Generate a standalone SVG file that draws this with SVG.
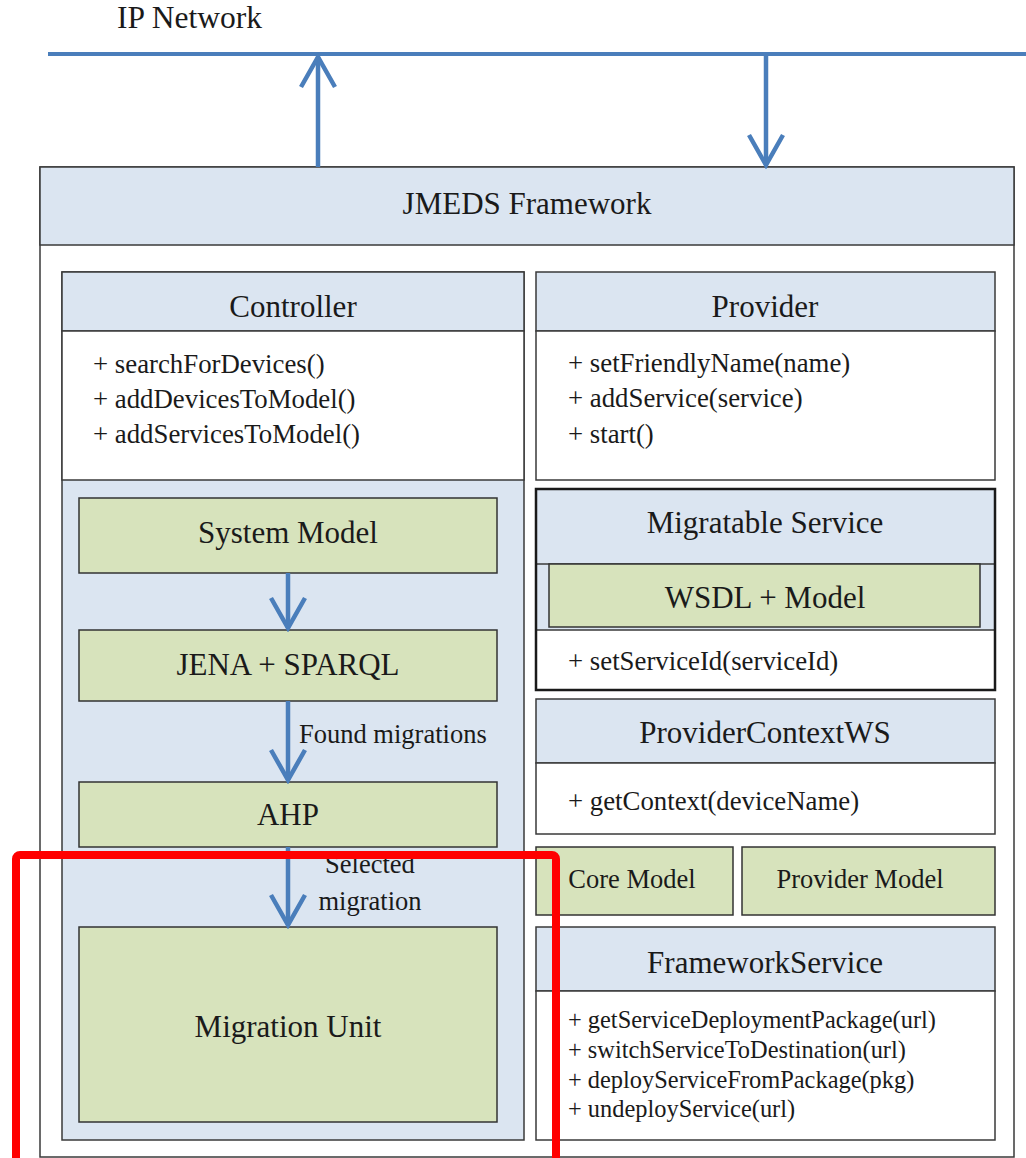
<svg xmlns="http://www.w3.org/2000/svg" width="1026" height="1158" viewBox="0 0 1026 1158" font-family="Liberation Serif, Times New Roman, serif">
<defs>
<style>
text{font-family:'Liberation Serif','Times New Roman',serif;fill:#1a1a1a}
.t{font-size:31px;text-anchor:middle}
.m{font-size:26.8px}
.s{font-size:24.4px}
.l{font-size:26.5px}
.hdr{fill:#dbe5f1;stroke:#3a3a3a;stroke-width:1.5}
.wht{fill:#ffffff;stroke:#3a3a3a;stroke-width:1.5}
.grn{fill:#d7e3bc;stroke:#333333;stroke-width:1.5}
.conn{stroke:#4a7ebb;stroke-width:4.5;fill:none}
</style>
<marker id="v" viewBox="-34 -20 38 40" markerWidth="38" markerHeight="40" refX="0" refY="0" orient="auto" markerUnits="userSpaceOnUse">
<path d="M-30,-17 L0,0 L-30,17" fill="none" stroke="#4a7ebb" stroke-width="4.5" stroke-linejoin="miter"/>
</marker>
</defs>
<rect width="1026" height="1158" fill="#ffffff"/>

<g id="ip-network">
<text x="117" y="28" font-size="31.5">IP Network</text>
<line x1="48" y1="54" x2="1026" y2="54" stroke="#4a7ebb" stroke-width="4"/>
</g>

<g id="jmeds-framework">
<rect x="40" y="167" width="974" height="990" class="wht"/>
<rect x="40" y="167" width="974" height="78" class="hdr"/>
<text x="527" y="214" class="t">JMEDS Framework</text>
</g>

<g id="controller">
<rect x="62" y="272" width="462" height="868" class="hdr"/>
<rect x="62" y="272" width="462" height="59" class="hdr"/>
<rect x="62" y="331" width="462" height="149" class="wht"/>
<text x="293" y="317" class="t">Controller</text>
<text x="93" y="373" class="m">+ searchForDevices()</text>
<text x="93" y="408" class="m">+ addDevicesToModel()</text>
<text x="93" y="443" class="m">+ addServicesToModel()</text>
</g>

<g id="system-model">
<rect x="79" y="498" width="418" height="75" class="grn"/>
<text x="288" y="543" class="t">System Model</text>
</g>
<g id="jena-sparql">
<rect x="79" y="630" width="418" height="71" class="grn"/>
<text x="288" y="675" class="t">JENA + SPARQL</text>
</g>
<g id="ahp">
<rect x="79" y="782" width="418" height="65" class="grn"/>
<text x="288" y="825" class="t">AHP</text>
</g>
<g id="migration-unit">
<rect x="79" y="927" width="418" height="195" class="grn"/>
<text x="288" y="1037" class="t">Migration Unit</text>
</g>

<g id="provider">
<rect x="536" y="272" width="459" height="59" class="hdr"/>
<rect x="536" y="331" width="459" height="149" class="wht"/>
<text x="765" y="317" class="t">Provider</text>
<text x="568" y="372" class="m">+ setFriendlyName(name)</text>
<text x="568" y="407" class="m">+ addService(service)</text>
<text x="568" y="443" class="m">+ start()</text>
</g>

<g id="migratable-service">
<rect x="536" y="489" width="459" height="141" fill="#dbe5f1"/>
<rect x="536" y="630" width="459" height="60" fill="#ffffff"/>
<line x1="536" y1="564" x2="995" y2="564" stroke="#3a3a3a" stroke-width="1.5"/>
<line x1="536" y1="630" x2="995" y2="630" stroke="#3a3a3a" stroke-width="1.5"/>
<rect x="549" y="564" width="431" height="63" class="grn"/>
<rect x="536" y="489" width="459" height="201" fill="none" stroke="#1a1a1a" stroke-width="2.5"/>
<text x="765" y="533" class="t">Migratable Service</text>
<text x="765" y="608" class="t">WSDL + Model</text>
<text x="568" y="670" class="m">+ setServiceId(serviceId)</text>
</g>

<g id="provider-context-ws">
<rect x="536" y="699" width="459" height="64" class="hdr"/>
<rect x="536" y="763" width="459" height="71" class="wht"/>
<text x="765" y="743" class="t">ProviderContextWS</text>
<text x="568" y="810" class="m">+ getContext(deviceName)</text>
</g>

<g id="core-model">
<rect x="536" y="847" width="197" height="68" class="grn"/>
<text x="632" y="888" class="l" text-anchor="middle">Core Model</text>
</g>
<g id="provider-model">
<rect x="742" y="847" width="253" height="68" class="grn"/>
<text x="860" y="888" class="l" text-anchor="middle">Provider Model</text>
</g>

<g id="framework-service">
<rect x="536" y="927" width="459" height="64" class="hdr"/>
<rect x="536" y="991" width="459" height="149" class="wht"/>
<text x="765" y="973" class="t">FrameworkService</text>
<text x="568" y="1028" class="s">+ getServiceDeploymentPackage(url)</text>
<text x="568" y="1058" class="s">+ switchServiceToDestination(url)</text>
<text x="568" y="1088" class="s">+ deployServiceFromPackage(pkg)</text>
<text x="568" y="1117" class="s">+ undeployService(url)</text>
</g>

<g id="connectors">
<line x1="318" y1="167" x2="318" y2="57" class="conn" marker-end="url(#v)"/>
<line x1="766" y1="55" x2="766" y2="165" class="conn" marker-end="url(#v)"/>
<line x1="288" y1="573" x2="288" y2="628" class="conn" marker-end="url(#v)"/>
<line x1="288" y1="701" x2="288" y2="780" class="conn" marker-end="url(#v)"/>
<text x="299" y="743" class="l">Found migrations</text>
<line x1="288" y1="847" x2="288" y2="925" class="conn" marker-end="url(#v)"/>
<text x="370" y="873" class="l" text-anchor="middle">Selected</text>
<text x="370" y="910" class="l" text-anchor="middle">migration</text>
</g>

<g id="highlight">
<rect x="16" y="855" width="540" height="330" rx="4" fill="none" stroke="#ff0000" stroke-width="8"/>
</g>
</svg>
